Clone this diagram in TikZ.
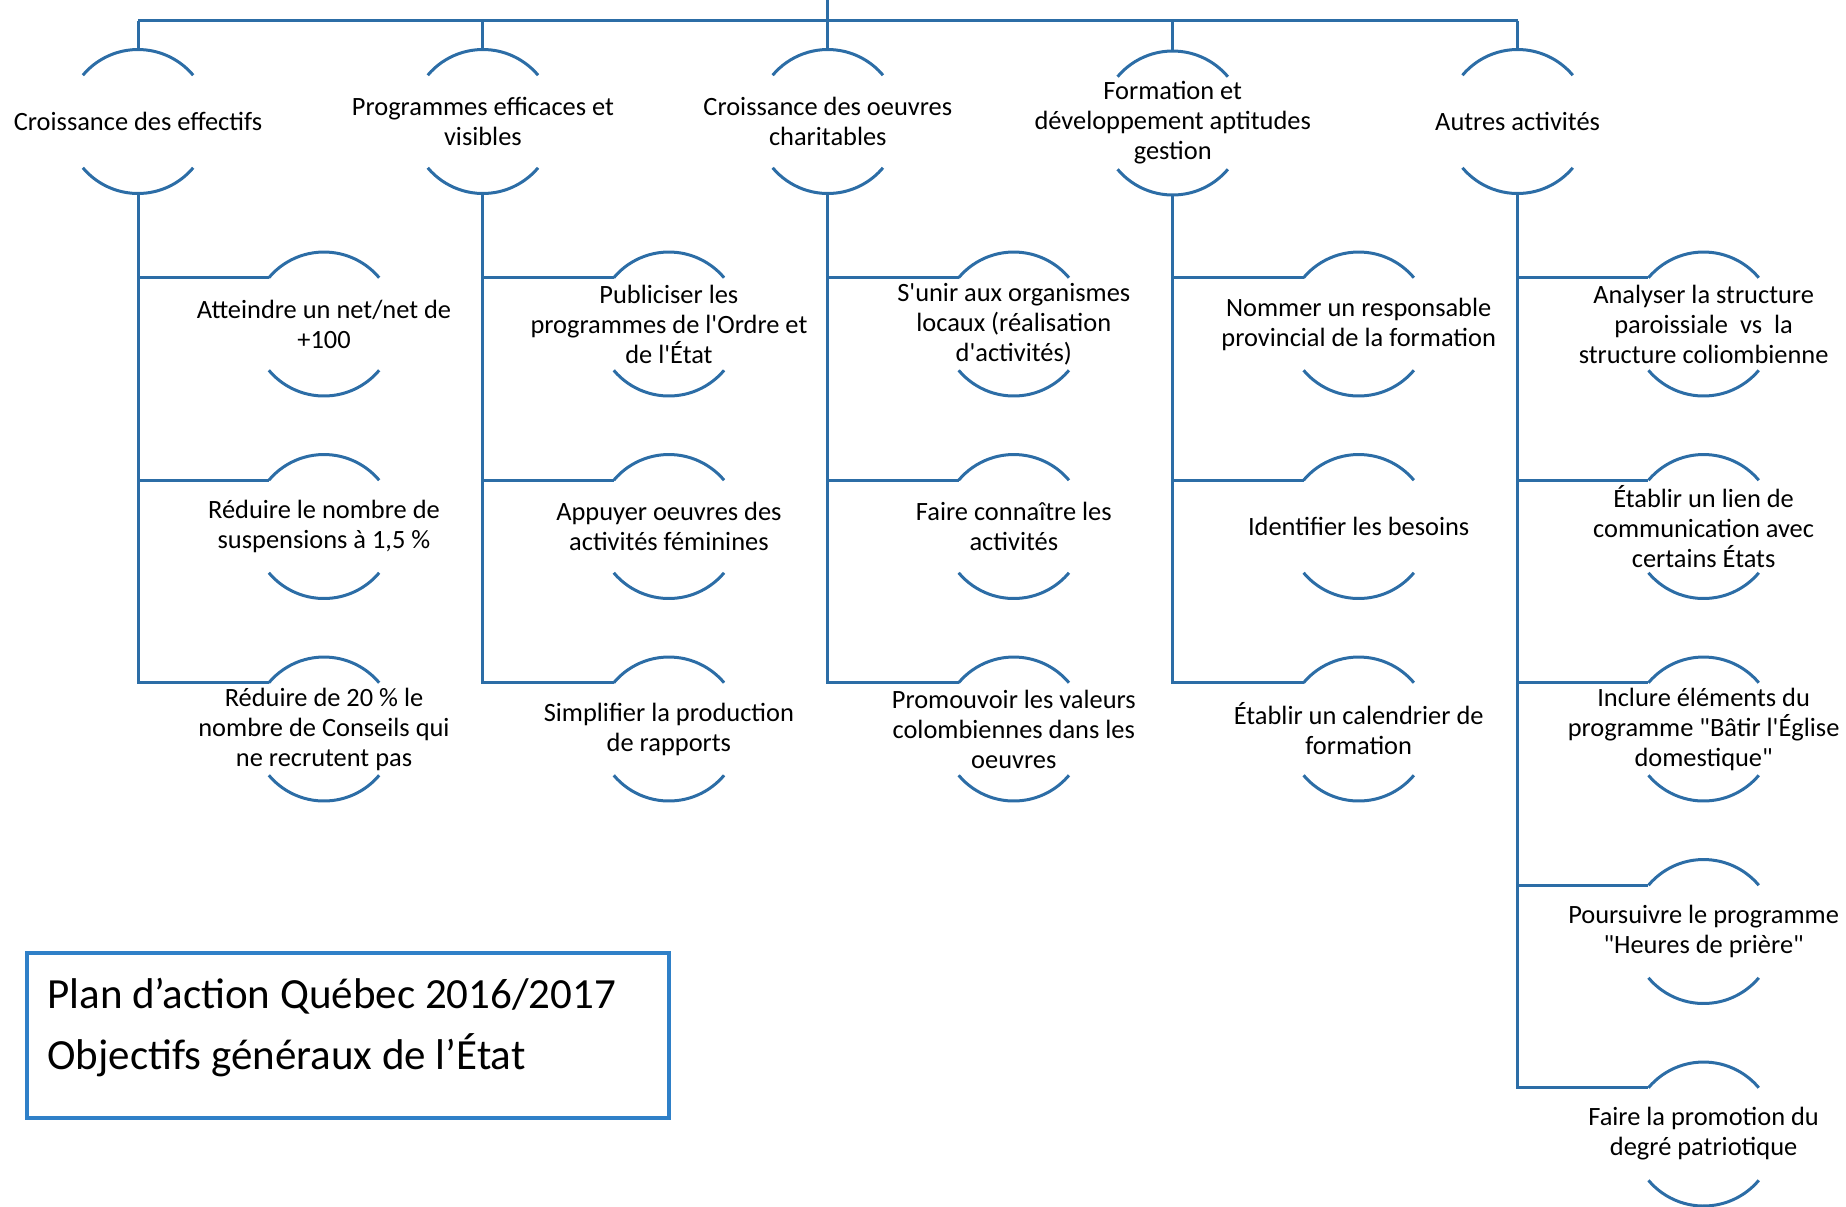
\documentclass[tikz,border=0pt]{standalone}
\usepackage{fontspec}
\setmainfont{Carlito}
\usetikzlibrary{calc}
\definecolor{linecol}{HTML}{2C6DA6}
\definecolor{boxcol}{HTML}{2F80C8}
\tikzset{
  objtxt/.style={align=center, inner sep=0pt, font=\fontsize{13.2pt}{15pt}\selectfont, text=black},
  arcline/.style={draw=linecol, line width=1.5pt},
  conn/.style={draw=linecol, line width=1.5pt},
  titlebox/.style={draw=boxcol, line width=2pt, inner sep=0pt},
  titletxt/.style={inner sep=0pt, font=\fontsize{21.5pt}{27pt}\selectfont, text=black},
}
\newcommand\sq{\textquotesingle}
\newcommand\dq{\textquotedbl}
\newcommand\objnode[4]{%
  \node[objtxt] (#1) at (#2,#3) {#4};
  \path (#2,#3) ++(90:36pt) coordinate (#1t);
  \path (#2,#3) ++(270:36pt) coordinate (#1b);
  \path (#2,#3) ++(140:36pt) coordinate (#1l);
  \draw[arcline] (#1l) arc[start angle=140,end angle=40,radius=36pt];
  \draw[arcline] (#2,#3) ++(220:36pt) arc[start angle=220,end angle=320,radius=36pt];
}
\begin{document}
\begin{tikzpicture}[x=0.5pt,y=0.5pt]
\useasboundingbox (0,0) rectangle (1846,-1206);
% top level
\objnode{c1}{138}{-121.5}{Croissance des effectifs}
\objnode{c2}{482.9}{-121.5}{Programmes efficaces et\\visibles}
\objnode{c3}{827.8}{-121.5}{Croissance des oeuvres\\charitables}
\objnode{c4}{1172.7}{-123}{Formation et\\développement aptitudes\\gestion}
\objnode{c5}{1517.6}{-121.5}{Autres activités}
% column 1
\objnode{k11}{324}{-324}{Atteindre un net/net de\\+100}
\objnode{k12}{324}{-526.5}{Réduire le nombre de\\suspensions à 1,5 \%}
\objnode{k13}{324}{-729}{Réduire de 20 \% le\\nombre de Conseils qui\\ne recrutent pas}
% column 2
\objnode{k21}{668.9}{-324}{Publiciser les\\programmes de l\sq Ordre et\\de l\sq État}
\objnode{k22}{668.9}{-526.5}{Appuyer oeuvres des\\activités féminines}
\objnode{k23}{668.9}{-729}{Simplifier la production\\de rapports}
% column 3
\objnode{k31}{1013.8}{-324}{S\sq unir aux organismes\\locaux (réalisation\\d\sq activités)}
\objnode{k32}{1013.8}{-526.5}{Faire connaître les\\activités}
\objnode{k33}{1013.8}{-729}{Promouvoir les valeurs\\colombiennes dans les\\oeuvres}
% column 4
\objnode{k41}{1358.7}{-324}{Nommer un responsable\\provincial de la formation}
\objnode{k42}{1358.7}{-526.5}{Identifier les besoins}
\objnode{k43}{1358.7}{-729}{Établir un calendrier de\\formation}
% column 5
\objnode{k51}{1703.6}{-324}{Analyser la structure\\paroissiale~~vs~~la\\structure coliombienne}
\objnode{k52}{1703.6}{-526.5}{Établir un lien de\\communication avec\\certains États}
\objnode{k53}{1703.6}{-729}{Inclure éléments du\\programme \dq Bâtir l\sq Église\\domestique\dq}
\objnode{k54}{1703.6}{-931.5}{Poursuivre le programme\\\dq Heures de prière\dq}
\objnode{k55}{1703.6}{-1134}{Faire la promotion du\\degré patriotique}
% connectors
\coordinate (root) at (827.8,0);
\coordinate (bus) at (827.8,-20.7);
\draw[conn] (root) -- (bus);
\draw[conn] (bus -| c1t) -- (bus -| c5t);
\foreach \cc in {c1,c2,c3,c4,c5} \draw[conn] (bus -| \cc t) -- (\cc t);
\foreach \i in {1,2,3} {
  \draw[conn] (c1b) |- (k1\i l);
  \draw[conn] (c2b) |- (k2\i l);
  \draw[conn] (c3b) |- (k3\i l);
  \draw[conn] (c4b) |- (k4\i l);
}
\foreach \i in {1,2,3,4,5} \draw[conn] (c5b) |- (k5\i l);
% title box
\node[titlebox, anchor=north west, minimum width=321pt, minimum height=82.5pt] (tbox) at (24.7,-951) {};
\node[titletxt, anchor=base west] (title1) at (47,-1008) {Plan d’action Québec 2016/2017};
\node[titletxt, anchor=base west] (title2) at (47,-1069) {Objectifs généraux de l’État};
\end{tikzpicture}
\end{document}
